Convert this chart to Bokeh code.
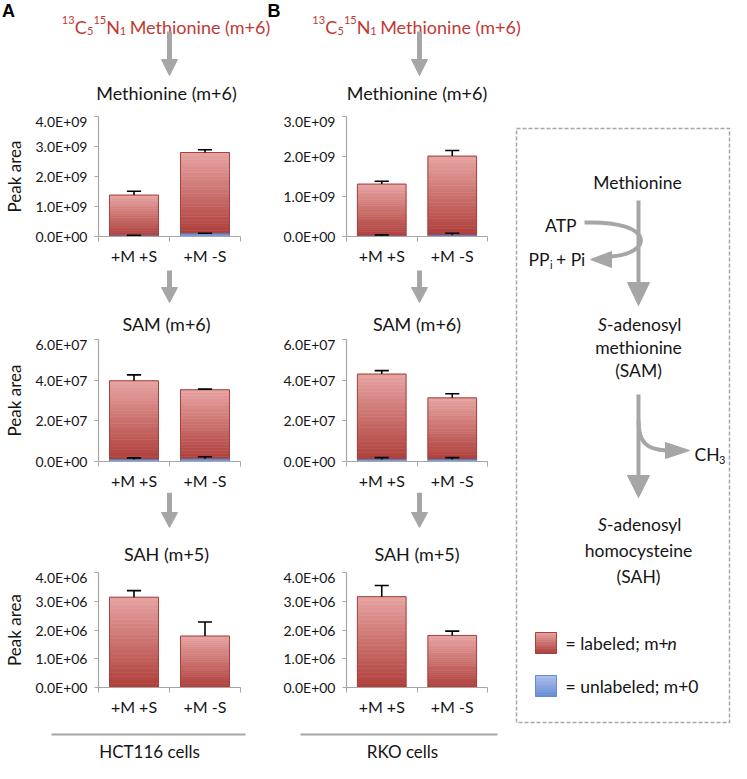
from bokeh.plotting import figure
from bokeh.layouts import row, column
from bokeh.models import Range1d, FixedTicker, CustomJSTickFormatter
from bokeh.embed import file_html
from bokeh.resources import INLINE
from bokeh.core.properties import value

# ---------------- data ----------------
categories = ["+M +S", "+M -S"]

# HCT116 cells (panel A)
hct_met_labeled = [1.36e9, 2.71e9]
hct_met_labeled_err = [0.13e9, 0.09e9]
hct_met_unlabeled = [0.02e9, 0.09e9]
hct_met_unlabeled_err = [0.02e9, 0.02e9]
hct_met_ticks = [0, 1e9, 2e9, 3e9, 4e9]

hct_sam_labeled = [3.87e7, 3.41e7]
hct_sam_labeled_err = [0.29e7, 0.03e7]
hct_sam_unlabeled = [0.10e7, 0.12e7]
hct_sam_unlabeled_err = [0.08e7, 0.11e7]
hct_sam_ticks = [0, 2e7, 4e7, 6e7]

hct_sah_labeled = [3.14e6, 1.79e6]
hct_sah_labeled_err = [0.23e6, 0.49e6]
hct_sah_unlabeled = [0.0, 0.0]
hct_sah_unlabeled_err = [0.0, 0.0]
hct_sah_ticks = [0, 1e6, 2e6, 3e6, 4e6]

# RKO cells (panel B)
rko_met_labeled = [1.30e9, 1.98e9]
rko_met_labeled_err = [0.07e9, 0.14e9]
rko_met_unlabeled = [0.01e9, 0.03e9]
rko_met_unlabeled_err = [0.03e9, 0.05e9]
rko_met_ticks = [0, 1e9, 2e9, 3e9]

rko_sam_labeled = [4.20e7, 3.03e7]
rko_sam_labeled_err = [0.17e7, 0.20e7]
rko_sam_unlabeled = [0.10e7, 0.10e7]
rko_sam_unlabeled_err = [0.09e7, 0.09e7]
rko_sam_ticks = [0, 2e7, 4e7, 6e7]

rko_sah_labeled = [3.16e6, 1.81e6]
rko_sah_labeled_err = [0.39e6, 0.15e6]
rko_sah_unlabeled = [0.0, 0.0]
rko_sah_unlabeled_err = [0.0, 0.0]
rko_sah_ticks = [0, 1e6, 2e6, 3e6, 4e6]

# ---------------- style ----------------
FONT = "Lato"
GRAY = "#A6A6A6"
RED_TXT = "#BE3A34"
TXT = "#151515"
RED_BOTTOM = (174, 62, 58)
RED_TOP = (231, 164, 162)
BLUE_BOTTOM = (104, 138, 210)
BLUE_TOP = (172, 194, 238)
BAR_W = 0.69
CAP = 0.10

Y_FMT = """
const s = tick.toExponential(1).toUpperCase();
const parts = s.split("E");
const e = parts[1];
const sign = e[0];
let d = e.slice(1);
if (d.length < 2) { d = "0" + d; }
return parts[0] + "E" + sign + d;
"""


def lerp(c0, c1, t):
    r = round(c0[0] + (c1[0] - c0[0]) * t)
    g = round(c0[1] + (c1[1] - c0[1]) * t)
    b = round(c0[2] + (c1[2] - c0[2]) * t)
    return "#%02x%02x%02x" % (r, g, b)


def no_align(p):
    try:
        p.frame_align = False
    except Exception:
        pass


def blank_fig(w, h):
    p = figure(width=w, height=h, x_range=Range1d(0, w), y_range=Range1d(h, 0),
               output_backend="svg", toolbar_location=None,
               x_axis_location=None, y_axis_location=None, min_border=0)
    p.outline_line_color = None
    p.background_fill_color = "white"
    p.border_fill_color = "white"
    p.grid.visible = False
    no_align(p)
    return p


def txt(p, x, y, s, size, color=TXT, align="center", baseline="middle",
        style="normal", font=FONT):
    p.text(x=[x], y=[y], text=[s], text_font=value(font), text_font_size=size,
           text_color=color, text_align=align, text_baseline=baseline,
           text_font_style=style)


def down_arrow(p, x, y0, yhead, ytip, half=8, shaft=5):
    p.segment(x0=[x], y0=[y0], x1=[x], y1=[yhead + 1], line_color=GRAY,
              line_width=shaft, line_cap="butt")
    p.patch(x=[x - half, x + half, x], y=[yhead, yhead, ytip],
            fill_color=GRAY, line_color=GRAY, line_width=1)


def make_chart(w, h, left, right, ticks, lab, lab_err, unl, unl_err, ylabel=None):
    p = figure(width=w, height=h, x_range=Range1d(0, len(categories)),
               y_range=Range1d(0, ticks[-1]), output_backend="svg",
               toolbar_location=None, min_border_left=left, min_border_right=right,
               min_border_top=4, min_border_bottom=29)
    no_align(p)
    p.outline_line_color = None
    p.background_fill_color = "white"
    p.border_fill_color = "white"
    p.xgrid.visible = False
    p.ygrid.visible = False

    ya = p.yaxis[0]
    ya.ticker = FixedTicker(ticks=ticks, minor_ticks=[])
    ya.formatter = CustomJSTickFormatter(code=Y_FMT)
    ya.axis_line_color = GRAY
    ya.axis_line_width = 1.2
    ya.major_tick_line_color = GRAY
    ya.major_tick_out = 4
    ya.major_tick_in = 0
    ya.minor_tick_line_color = None
    ya.major_label_text_font = FONT
    ya.major_label_text_font_size = "14px"
    ya.major_label_text_color = TXT
    ya.major_label_standoff = 7
    if ylabel:
        ya.axis_label = ylabel
        ya.axis_label_text_font = FONT
        ya.axis_label_text_font_size = "17px"
        ya.axis_label_text_font_style = "normal"
        ya.axis_label_text_color = TXT
        ya.axis_label_standoff = 8

    centers = [i + 0.5 for i in range(len(categories))]
    xa = p.xaxis[0]
    xa.ticker = FixedTicker(ticks=centers, minor_ticks=list(range(len(categories) + 1)))
    xa.formatter = CustomJSTickFormatter(args=dict(cats=categories),
                                         code="return cats[Math.round(tick - 0.5)];")
    xa.axis_line_color = GRAY
    xa.axis_line_width = 1.2
    xa.major_tick_line_color = None
    xa.major_tick_out = 4
    xa.major_tick_in = 0
    xa.minor_tick_line_color = GRAY
    xa.minor_tick_out = 5
    xa.minor_tick_in = 0
    xa.major_label_text_font = FONT
    xa.major_label_text_font_size = "16px"
    xa.major_label_text_color = TXT
    xa.major_label_standoff = 4

    hw = BAR_W / 2
    N = 24
    L, R, B, T, C = [], [], [], [], []
    for x, l, u in zip(centers, lab, unl):
        for k in range(N):
            L.append(x - hw)
            R.append(x + hw)
            B.append(u + l * k / N)
            T.append(u + l * (k + 1) / N)
            C.append(lerp(RED_BOTTOM, RED_TOP, (k + 0.5) / N))
    p.quad(left=L, right=R, bottom=B, top=T, fill_color=C, line_color=C, line_width=0.6)
    tops = [u + l for l, u in zip(lab, unl)]
    p.quad(left=[x - hw for x in centers], right=[x + hw for x in centers],
           bottom=unl, top=tops, fill_color=None, line_color="#A3433E", line_width=1)

    bx = [x for x, u in zip(centers, unl) if u > 0]
    bu = [u for u in unl if u > 0]
    if bx:
        p.quad(left=[x - hw for x in bx], right=[x + hw for x in bx],
               bottom=[0] * len(bx), top=bu, fill_color="#7B9AD8",
               line_color="#5A7BC2", line_width=1)

    et = [t + e for t, e in zip(tops, lab_err)]
    p.segment(x0=centers, y0=tops, x1=centers, y1=et, line_color="black", line_width=1.6)
    p.segment(x0=[x - CAP for x in centers], y0=et, x1=[x + CAP for x in centers], y1=et,
              line_color="black", line_width=1.6)

    ux = [x for x, e in zip(centers, unl_err) if e > 0]
    u0 = [u for u, e in zip(unl, unl_err) if e > 0]
    u1 = [u + e for u, e in zip(unl, unl_err) if e > 0]
    if ux:
        p.segment(x0=ux, y0=u0, x1=ux, y1=u1, line_color="black", line_width=1.4)
        p.segment(x0=[x - CAP for x in ux], y0=u1, x1=[x + CAP for x in ux], y1=u1,
                  line_color="black", line_width=1.6)
    return p


def red_title(p, cx, base_y):
    # runs: text, font size px, baseline offset, advance width estimate
    runs = [("13", 11, -7, 12.8), ("C", 18, 0, 12.4), ("5", 11, 4, 6.4),
            ("15", 11, -7, 12.8), ("N", 18, 0, 13.5), ("1", 11, 4, 6.4),
            ("Methionine (m+6)", 18, 0, 141.5)]
    gap = 3.5
    total = sum(r[3] for r in runs) + gap
    x = cx - total / 2
    for i, (s, sz, dy, wdt) in enumerate(runs):
        if i == len(runs) - 1:
            x += gap
        txt(p, x, base_y + dy, s, "%dpx" % sz, color=RED_TXT, align="left",
            baseline="alphabetic")
        x += wdt


# ---------------- header strip (both panels) ----------------
head = blank_fig(731, 112)
for letter, lx, cx, ax in (("A", 1.5, 166, 169), ("B", 267, 416.5, 419)):
    txt(head, lx, 10, letter, "18px", color="#000000", align="left",
        style="bold", font="Liberation Sans")
    red_title(head, cx, 26.5)
    down_arrow(head, ax, 31, 59, 75)
    txt(head, cx, 92, "Methionine (m+6)", "18px")


def build_column(w, cx, ax, chart_left, chart_right, first, second,
                 third, ylabel, foot_x0, foot_x1, foot_cx, foot_label):
    c1 = make_chart(w, 155, chart_left, chart_right, *first, ylabel=ylabel)

    a2 = blank_fig(w, 68)
    down_arrow(a2, ax, 3, 20, 35)
    txt(a2, cx, 56, "SAM (m+6)", "18px")

    c2 = make_chart(w, 157, chart_left, chart_right, *second, ylabel=ylabel)

    a3 = blank_fig(w, 76)
    down_arrow(a3, ax, 0, 20, 35)
    txt(a3, cx, 61, "SAH (m+5)", "18px")

    c3 = make_chart(w, 150, chart_left, chart_right, *third, ylabel=ylabel)

    foot = blank_fig(w, 45)
    foot.segment(x0=[foot_x0], y0=[16], x1=[foot_x1], y1=[16], line_color=GRAY, line_width=2)
    txt(foot, foot_cx, 33, foot_label, "17px")
    return column(c1, a2, c2, a3, c3, foot, spacing=0)


col_a = build_column(
    262, 166, 169, 92, 22,
    (hct_met_ticks, hct_met_labeled, hct_met_labeled_err, hct_met_unlabeled, hct_met_unlabeled_err),
    (hct_sam_ticks, hct_sam_labeled, hct_sam_labeled_err, hct_sam_unlabeled, hct_sam_unlabeled_err),
    (hct_sah_ticks, hct_sah_labeled, hct_sah_labeled_err, hct_sah_unlabeled, hct_sah_unlabeled_err),
    "Peak area", 51, 245, 149, "HCT116 cells")

col_b = build_column(
    244, 154.5, 157, 84, 19,
    (rko_met_ticks, rko_met_labeled, rko_met_labeled_err, rko_met_unlabeled, rko_met_unlabeled_err),
    (rko_sam_ticks, rko_sam_labeled, rko_sam_labeled_err, rko_sam_unlabeled, rko_sam_unlabeled_err),
    (rko_sah_ticks, rko_sah_labeled, rko_sah_labeled_err, rko_sah_unlabeled, rko_sah_unlabeled_err),
    None, 38, 235, 140, "RKO cells")

# ---------------- pathway diagram ----------------
d = blank_fig(225, 651)
FS = "17.5px"
O = 112  # vertical offset of this panel within the page layout
# dashed box
d.patch(x=[10, 223, 223, 10], y=[128 - O, 128 - O, 722 - O, 722 - O], fill_color=None,
        line_color=GRAY, line_width=1.5, line_dash="4 2")

txt(d, 131, 182 - O, "Methionine", FS)
down_arrow(d, 132, 200 - O, 282 - O, 305 - O, half=11, shaft=4)
txt(d, 70, 225 - O, "ATP", FS, align="right")
d.bezier(x0=[78], y0=[222 - O], x1=[103], y1=[256 - O], cx0=[151], cy0=[220 - O],
         cx1=[146], cy1=[254 - O], line_color=GRAY, line_width=4)
d.patch(x=[84, 105, 105], y=[259 - O, 251 - O, 267 - O], fill_color=GRAY,
        line_color=GRAY, line_width=1)
txt(d, 43, 259 - O, "PP", FS, align="right")
txt(d, 43.5, 264 - O, "i", "11px", align="left")
txt(d, 49.5, 259 - O, "+ Pi", FS, align="left")

txt(d, 100.5, 324 - O, "S", FS, align="right", style="italic")
txt(d, 100.5, 324 - O, "-adenosyl", FS, align="left")
txt(d, 132, 347 - O, "methionine", FS)
txt(d, 132, 370 - O, "(SAM)", FS)

down_arrow(d, 132, 394 - O, 475 - O, 497 - O, half=11, shaft=4)
d.bezier(x0=[132], y0=[420 - O], x1=[160], y1=[450 - O], cx0=[132], cy0=[442 - O],
         cx1=[140], cy1=[449 - O], line_color=GRAY, line_width=4)
d.patch(x=[183, 159, 159], y=[450 - O, 442 - O, 458 - O], fill_color=GRAY,
        line_color=GRAY, line_width=1)
txt(d, 188, 454 - O, "CH", FS, align="left")
txt(d, 212.5, 459 - O, "3", "11px", align="left")

txt(d, 100.5, 524 - O, "S", FS, align="right", style="italic")
txt(d, 100.5, 524 - O, "-adenosyl", FS, align="left")
txt(d, 132, 550 - O, "homocysteine", FS)
txt(d, 132, 576 - O, "(SAH)", FS)


# legend swatches (vertical gradient)
def swatch(p, x0, x1, y0, y1, c_top, c_bot, edge):
    n = 12
    L, R, B, T, C = [], [], [], [], []
    for k in range(n):
        L.append(x0)
        R.append(x1)
        T.append(y0 + (y1 - y0) * k / n)
        B.append(y0 + (y1 - y0) * (k + 1) / n)
        C.append(lerp(c_top, c_bot, (k + 0.5) / n))
    p.quad(left=L, right=R, bottom=B, top=T, fill_color=C, line_color=C, line_width=0.6)
    p.quad(left=[x0], right=[x1], bottom=[y1], top=[y0], fill_color=None,
           line_color=edge, line_width=1)


swatch(d, 29, 50, 632 - O, 653 - O, RED_TOP, RED_BOTTOM, "#A3433E")
txt(d, 59, 643 - O, "= labeled; m+", FS, align="left")
txt(d, 161, 643 - O, "n", FS, align="left", style="italic")
swatch(d, 29, 50, 675 - O, 696 - O, BLUE_TOP, BLUE_BOTTOM, "#6A8AD0")
txt(d, 59, 686 - O, "= unlabeled; m+0", FS, align="left")

layout = column(head, row(col_a, col_b, d, spacing=0), spacing=0)

open("out.html", "w").write(file_html(layout, INLINE, title="Methionine labeling"))
